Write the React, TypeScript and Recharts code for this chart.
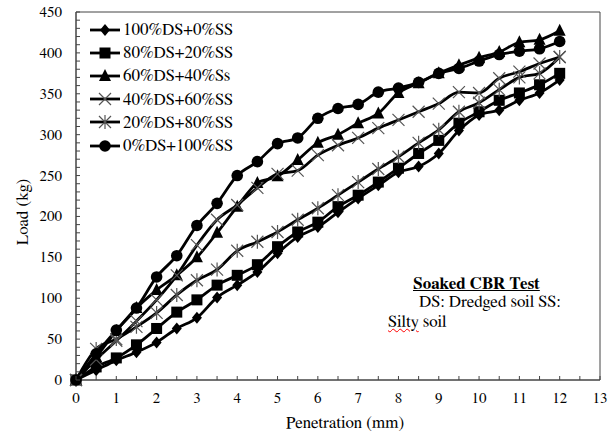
import React from "react";
import { LineChart, Line, XAxis, YAxis, ReferenceArea } from "recharts";

const penetration = [0, 0.5, 1, 1.5, 2, 2.5, 3, 3.5, 4, 4.5, 5, 5.5, 6, 6.5, 7, 7.5, 8, 8.5, 9, 9.5, 10, 10.5, 11, 11.5, 12];
const ds100ss0 = [0, 12, 24, 34, 46, 63, 76, 101, 116, 132, 155, 175, 187, 205, 222, 238, 254, 261, 277, 305, 324, 330, 342, 351, 367];
const ds80ss20 = [0, 16, 27, 43, 63, 83, 98, 116, 128, 141, 163, 181, 193, 212, 226, 242, 259, 277, 293, 314, 328, 342, 351, 361, 375];
const ds60ss40 = [0, 28, 60, 88, 110, 128, 150, 180, 212, 241, 249, 269, 290, 300, 314, 326, 351, 363, 375, 385, 394, 401, 413, 416, 427];
const ds40ss60 = [0, 25, 48, 72, 98, 128, 165, 196, 214, 235, 252, 256, 275, 287, 296, 308, 318, 328, 338, 352, 351, 369, 377, 387, 395];
const ds20ss80 = [0, 38, 50, 65, 82, 104, 122, 135, 158, 169, 181, 196, 210, 226, 242, 258, 273, 290, 306, 328, 339, 355, 370, 375, 395];
const ds0ss100 = [0, 32, 61, 88, 126, 152, 189, 216, 250, 267, 289, 296, 320, 332, 337, 352, 357, 364, 375, 381, 390, 398, 402, 405, 414];

const xTicks = Array.from({ length: 27 }, (_, i) => i * 0.5);
const yTicks = Array.from({ length: 46 }, (_, i) => i * 10);

// serif that is actually present in the sandbox (Times-like metrics)
const FONT = "FreeSerif, 'Liberation Serif', serif";
const AXIS = "#444";

type Shape = "diamond" | "square" | "triangle" | "cross" | "star" | "circle";

function marker(shape: Shape, cx: number, cy: number, key?: string) {
  switch (shape) {
    case "diamond":
      return <path key={key} d={`M${cx},${cy - 6}L${cx + 5},${cy}L${cx},${cy + 6}L${cx - 5},${cy}Z`} fill="#000" />;
    case "square":
      return <rect key={key} x={cx - 5.5} y={cy - 5.5} width={11} height={11} fill="#000" />;
    case "triangle":
      return <path key={key} d={`M${cx},${cy - 7}L${cx + 6},${cy + 5}L${cx - 6},${cy + 5}Z`} fill="#000" />;
    case "cross":
      return (
        <path key={key} d={`M${cx - 6},${cy - 6}L${cx + 6},${cy + 6}M${cx - 6},${cy + 6}L${cx + 6},${cy - 6}`} stroke="#555" strokeWidth={1.2} fill="none" />
      );
    case "star":
      return (
        <path
          key={key}
          d={`M${cx - 6},${cy - 6}L${cx + 6},${cy + 6}M${cx - 6},${cy + 6}L${cx + 6},${cy - 6}M${cx},${cy - 7}L${cx},${cy + 7}`}
          stroke="#555"
          strokeWidth={1.2}
          fill="none"
        />
      );
    default:
      return <circle key={key} cx={cx} cy={cy} r={5.8} fill="#000" />;
  }
}

const series: { key: string; name: string; values: number[]; shape: Shape }[] = [
  { key: "s1", name: "100%DS+0%SS", values: ds100ss0, shape: "diamond" },
  { key: "s2", name: "80%DS+20%SS", values: ds80ss20, shape: "square" },
  { key: "s3", name: "60%DS+40%Ss", values: ds60ss40, shape: "triangle" },
  { key: "s4", name: "40%DS+60%SS", values: ds40ss60, shape: "cross" },
  { key: "s5", name: "20%DS+80%SS", values: ds20ss80, shape: "star" },
  { key: "s6", name: "0%DS+100%SS", values: ds0ss100, shape: "circle" },
];

const data = penetration.map((p, i) => {
  const row: Record<string, number> = { p };
  for (const s of series) row[s.key] = s.values[i];
  return row;
});

const XTick = (props: any) => {
  const { x, y, payload } = props;
  const v = payload.value as number;
  return (
    <g>
      <line x1={x} x2={x} y1={y} y2={y - 4} stroke={AXIS} />
      {Number.isInteger(v) && (
        <text x={x} y={y + 23} textAnchor="middle" fontSize={15} fontFamily={FONT} fill="#000">
          {v}
        </text>
      )}
    </g>
  );
};

const YTick = (props: any) => {
  const { x, y, payload } = props;
  const v = payload.value as number;
  return (
    <g>
      <line x1={x} x2={x + 4} y1={y} y2={y} stroke={AXIS} />
      {v % 50 === 0 && (
        <text x={x - 14} y={y + 5} textAnchor="end" fontSize={15} fontFamily={FONT} fill="#000">
          {v}
        </text>
      )}
    </g>
  );
};

export default function App() {
  return (
    <div style={{ position: "absolute", left: 0, top: 0, width: 610, height: 435, background: "#fff", fontFamily: FONT }}>
      <LineChart width={610} height={435} data={data} margin={{ top: 12, right: 10, bottom: 15, left: 0 }}>
        <XAxis
          dataKey="p"
          type="number"
          domain={[0, 13]}
          ticks={xTicks}
          interval={0}
          tickSize={0}
          tickMargin={0}
          tick={<XTick />}
          height={40}
          stroke={AXIS}
        />
        <YAxis
          type="number"
          domain={[0, 450]}
          ticks={yTicks}
          interval={0}
          tickSize={0}
          tickMargin={0}
          tick={<YTick />}
          width={76}
          stroke={AXIS}
        />
        <ReferenceArea x1={0} x2={13} y1={0} y2={450} fill="none" stroke={AXIS} strokeWidth={1} ifOverflow="visible" />
        {series.map((s) => (
          <Line
            key={s.key}
            dataKey={s.key}
            name={s.name}
            type="monotone"
            stroke="#000"
            strokeWidth={2.8}
            isAnimationActive={false}
            dot={(d: any) => marker(s.shape, d.cx, d.cy, `${s.key}-${d.index}`)}
            activeDot={false}
          />
        ))}
      </LineChart>

      <div style={{ position: "absolute", left: 88, top: 18 }}>
        {series.map((s) => (
          <div key={s.key} style={{ display: "flex", alignItems: "center", height: 23.2 }}>
            <svg width={34} height={16} style={{ marginRight: 1 }}>
              <line x1={2} x2={32} y1={8} y2={8} stroke="#000" strokeWidth={2.8} />
              {marker(s.shape, 17, 8)}
            </svg>
            <span style={{ fontSize: 17, color: "#000" }}>{s.name}</span>
          </div>
        ))}
      </div>

      <div
        style={{
          position: "absolute",
          left: 22,
          top: 212,
          transform: "translate(-50%, -50%) rotate(-90deg)",
          fontSize: 17,
          whiteSpace: "nowrap",
        }}
      >
        Load (kg)
      </div>
      <div style={{ position: "absolute", left: 345, top: 422, transform: "translate(-50%, -50%)", fontSize: 17, whiteSpace: "nowrap" }}>
        Penetration (mm)
      </div>

      <div style={{ position: "absolute", left: 413, top: 274, fontSize: 17, fontWeight: "bold", textDecoration: "underline", whiteSpace: "nowrap" }}>
        Soaked CBR Test
      </div>
      <div style={{ position: "absolute", left: 419, top: 292, fontSize: 17, whiteSpace: "nowrap" }}>DS: Dredged soil SS:</div>
      <div style={{ position: "absolute", left: 388, top: 312, fontSize: 17, whiteSpace: "nowrap" }}>
        <span style={{ textDecoration: "underline wavy red", textDecorationThickness: 1 }}>Silty</span> soil
      </div>
    </div>
  );
}
